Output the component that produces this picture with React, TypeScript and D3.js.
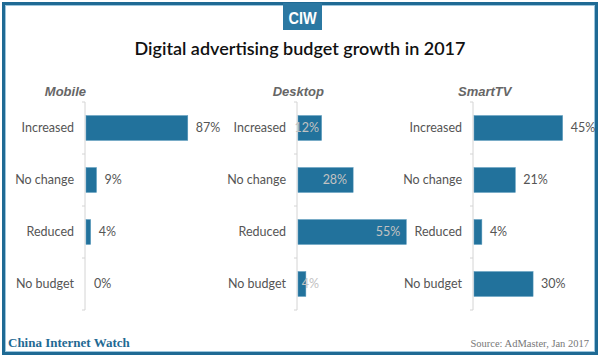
import React from "react";
import * as d3 from "d3";

const categories = ["Increased", "No change", "Reduced", "No budget"];
const panels = ["Mobile", "Desktop", "SmartTV"];
const mobileValues = [87, 9, 4, 0];
const desktopValues = [12, 28, 55, 4];
const smartTvValues = [45, 21, 4, 30];
const title = "Digital advertising budget growth in 2017";
const footerLeft = "China Internet Watch";
const footerRight = "Source: AdMaster, Jan 2017";

const W = 600;
const H = 359;
const BAR = "#22729c";
const FRAME = "#1f6a94";

const layout = [
  { axisX: 85, width: 117, titleX: 86, titleAnchor: "end", inside: false },
  { axisX: 297, width: 197, titleX: 324, titleAnchor: "end", inside: true },
  { axisX: 473, width: 197, titleX: 458, titleAnchor: "start", inside: false },
];

export default function App() {
  const y = d3
    .scaleBand<string>()
    .domain(categories)
    .range([102, 310])
    .paddingInner(0.52)
    .paddingOuter(0.26);
  const seriesValues = [mobileValues, desktopValues, smartTvValues];
  const sansCat = "'Lato', 'Open Sans', sans-serif";

  return (
    <svg
      width={W}
      height={H}
      style={{ position: "absolute", left: 0, top: 0, background: "#fff" }}
    >
      <rect x={0} y={0} width={W} height={H} fill="#fff" />
      {/* frame */}
      <rect x={3.5} y={3.5} width={593} height={350} fill="none" stroke={FRAME} strokeWidth={3} />
      <rect x={5.5} y={5.5} width={589} height={346} fill="none" stroke="#9cc6dd" strokeWidth={1} />
      {/* CIW badge */}
      <rect x={283} y={3} width={39} height={27} fill="#2b78a2" />
      <text
        x={302.5}
        y={24}
        textAnchor="middle"
        fill="#fff"
        fontFamily="'Liberation Sans Narrow', 'Liberation Sans', Arial, sans-serif"
        fontWeight="bold"
        fontSize={17}
        transform="translate(302.5,0) scale(0.85,1) translate(-302.5,0)"
      >
        CIW
      </text>
      <text
        x={300}
        y={55}
        textAnchor="middle"
        fill="#111"
        fontFamily={sansCat}
        fontSize={18}
        fontWeight={600}
      >
        {title}
      </text>
      {panels.map((p, pi) => {
        const L = layout[pi];
        const x = d3.scaleLinear().domain([0, 100]).range([L.axisX + 1, L.axisX + 1 + L.width]);
        const vals = seriesValues[pi];
        const ticks = [102, ...categories.map((c) => (y(c) as number) - y.step() * 0.26 + y.step())];
        return (
          <g key={p}>
            <text
              x={L.titleX}
              y={96}
              textAnchor={L.titleAnchor as any}
              fill="#666"
              fontFamily="'Liberation Sans', Arial, sans-serif"
              fontStyle="italic"
              fontWeight="bold"
              fontSize={13}
            >
              {p}
            </text>
            <line x1={L.axisX} x2={L.axisX} y1={102} y2={310} stroke="#d4d4d4" strokeWidth={1} />
            {ticks.map((t, i) => (
              <line key={i} x1={L.axisX - 3} x2={L.axisX} y1={t} y2={t} stroke="#d4d4d4" strokeWidth={1} />
            ))}
            {categories.map((c, i) => {
              const by = y(c) as number;
              const bh = y.bandwidth();
              const x0 = x(0);
              const x1 = x(vals[i]);
              const cy = by + bh / 2;
              let lx: number;
              let anchor: string;
              let fill: string;
              if (L.inside) {
                lx = Math.max(x1 - 6, x0 + 21);
                anchor = "end";
                fill = "#c2c2c2";
              } else {
                lx = x1 + 8;
                anchor = "start";
                fill = "#555";
              }
              return (
                <g key={c}>
                  <text
                    x={L.axisX - 11}
                    y={cy}
                    dy="0.35em"
                    textAnchor="end"
                    fill="#555"
                    fontFamily={sansCat}
                    fontSize={12.5}
                  >
                    {c}
                  </text>
                  {vals[i] > 0 && (
                    <rect x={x0} y={by} width={x1 - x0} height={bh} fill={BAR} stroke="#5f9dbf" strokeWidth={0.5} />
                  )}
                  <text
                    x={lx}
                    y={cy}
                    dy="0.35em"
                    textAnchor={anchor as any}
                    fill={fill}
                    fontFamily={sansCat}
                    fontSize={12.5}
                  >
                    {vals[i] + "%"}
                  </text>
                </g>
              );
            })}
          </g>
        );
      })}
      <text
        x={8}
        y={347}
        fill={FRAME}
        fontFamily="'Liberation Serif', 'Times New Roman', serif"
        fontWeight="bold"
        fontSize={13}
      >
        {footerLeft}
      </text>
      <text
        x={589}
        y={347}
        textAnchor="end"
        fill="#777"
        fontFamily="'Liberation Serif', 'Times New Roman', serif"
        fontSize={10.5}
      >
        {footerRight}
      </text>
    </svg>
  );
}
